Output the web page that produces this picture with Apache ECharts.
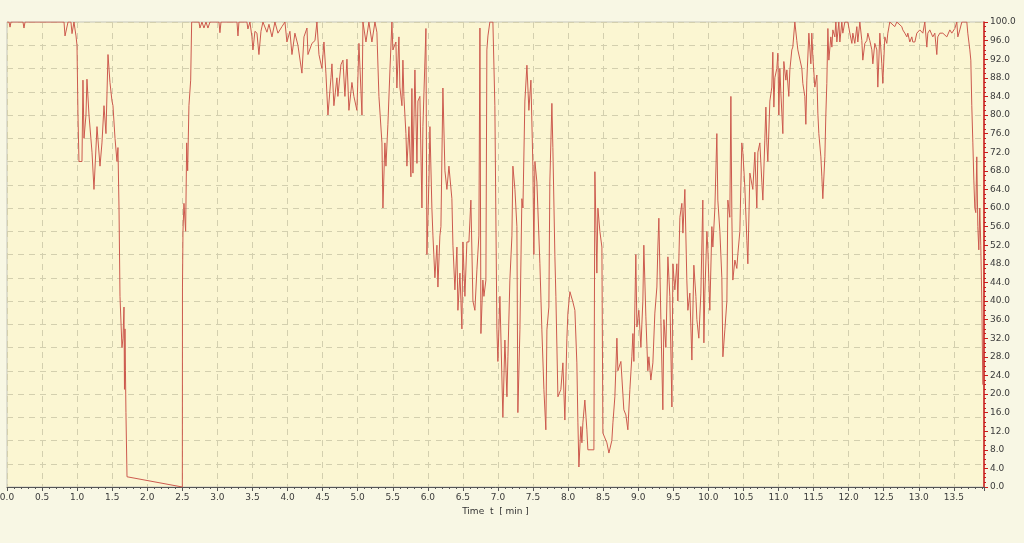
<!DOCTYPE html>
<html>
<head>
<meta charset="utf-8">
<script src="https://cdn.jsdelivr.net/npm/echarts@6/dist/echarts.min.js"></script>
<style>
html,body{margin:0;padding:0;background:#f8f7e4;}
#c{width:1024px;height:543px;}
</style>
</head>
<body>
<div id="c"></div>
<script>
var xTitle = 'Time  t  [ min ]';
var yTitle = 'RXSQ [%]';
var xMin = 0, xMax = 13.93, xStep = 0.5;
var yMin = 0, yMax = 100, yLabelStep = 4, yGridStep = 5;

var timeMin = [
0,0.029,0.043,0.057,0.228,0.242,0.257,0.813,0.827,0.855,0.870,0.912,0.927,0.955,0.969,0.984,0.998,1.012,1.026,1.069,1.083,1.098,1.126,1.140,1.169,1.212,1.240,1.283,1.326,1.354,1.383,1.411,1.440,1.468,1.497,1.511,1.540,1.568,1.582,1.597,1.611,1.639,1.654,1.668,1.675,1.682,1.689,1.696,1.711,
2.500,2.502,2.509,2.523,2.547,2.562,2.576,2.594,2.619,2.633,
2.737,2.751,2.780,2.808,2.837,2.865,2.894,3.022,3.036,3.051,3.279,3.293,3.307,3.421,3.435,3.464,3.492,3.507,3.535,3.564,3.592,3.621,3.649,3.706,3.735,3.778,3.820,3.863,3.920,3.963,3.991,4.034,4.063,4.105,4.148,4.205,4.234,4.277,4.291,4.348,4.391,4.419,4.448,4.490,4.519,4.547,4.576,4.619,4.633,4.661,4.704,4.718,4.761,4.790,4.818,4.847,4.875,4.918,4.946,4.989,5.018,5.061,5.075,5.118,5.160,5.203,5.246,5.274,5.303,5.346,5.360,5.388,5.403,5.431,5.460,5.488,5.502,5.545,5.559,5.588,5.602,5.631,5.645,5.659,5.688,5.702,5.731,5.759,5.773,5.788,5.816,5.845,5.859,5.887,5.916,5.930,5.973,5.987,6.016,6.030,6.058,6.073,6.101,6.130,6.144,6.172,6.187,6.215,6.244,6.272,6.301,6.343,6.358,6.386,6.415,6.429,6.458,6.486,6.500,6.529,6.557,6.586,6.614,6.643,6.671,6.700,6.728,6.743,6.757,6.785,6.800,6.828,6.842,6.857,6.885,6.928,6.956,6.985,6.999,7.028,7.070,7.099,7.128,7.142,7.170,7.199,7.213,7.242,7.270,7.284,7.313,7.341,7.356,7.384,7.413,7.441,7.470,7.498,7.512,7.527,7.555,7.569,7.598,7.626,7.655,7.683,7.698,7.726,7.740,7.769,7.783,7.812,7.826,7.855,7.897,7.926,7.954,7.983,7.997,8.026,8.054,8.068,8.097,8.125,8.140,8.154,8.182,8.197,8.211,8.239,8.268,8.282,8.368,8.382,8.410,8.425,8.453,8.482,8.496,8.553,8.582,8.624,8.639,8.667,8.696,8.710,8.753,8.781,8.795,8.824,8.852,8.881,8.909,8.924,8.938,8.966,8.981,9.009,9.038,9.066,9.080,9.109,9.137,9.152,9.180,9.209,9.237,9.266,9.280,9.294,9.323,9.351,9.366,9.394,9.423,9.451,9.480,9.494,9.522,9.551,9.565,9.594,9.622,9.637,9.665,9.693,9.708,9.736,9.765,9.793,9.822,9.836,9.864,9.893,9.921,9.936,9.950,9.979,9.993,10.021,10.050,10.064,10.093,10.121,10.135,10.164,10.192,10.207,10.235,10.264,10.278,10.306,10.321,10.335,10.349,10.378,10.406,10.420,10.449,10.477,10.492,10.520,10.549,10.563,10.592,10.620,10.634,10.663,10.691,10.706,10.734,10.763,10.777,10.805,10.820,10.834,10.848,10.877,10.905,10.919,10.934,10.948,10.976,10.991,11.005,11.019,11.034,11.062,11.076,11.105,11.119,11.147,11.162,11.190,11.204,11.233,11.261,11.276,11.304,11.333,11.347,11.375,11.390,11.404,11.433,11.461,11.475,11.490,11.518,11.547,11.561,11.575,11.604,11.618,11.632,11.661,11.675,11.689,11.704,11.718,11.746,11.761,11.775,11.803,11.818,11.832,11.860,11.875,11.903,11.917,11.946,11.989,12.017,12.046,12.060,12.088,12.117,12.131,12.160,12.188,12.202,12.231,12.259,12.274,12.302,12.331,12.345,12.373,12.402,12.416,12.445,12.473,12.487,12.516,12.544,12.559,12.587,12.658,12.687,12.758,12.772,12.801,12.830,12.844,12.872,12.901,12.915,12.944,12.972,13.015,13.058,13.086,13.115,13.129,13.157,13.200,13.229,13.257,13.271,13.300,13.343,13.400,13.443,13.471,13.514,13.542,13.557,13.585,13.614,13.685,13.699,13.728,13.742,13.756,13.771,13.785,13.799,13.813,13.827,13.842,13.856,13.870,13.884,13.899,13.913
];

var rxsq = [
100,100,98.9,100,100,98.7,100,100,97,96.8,100,100,97.5,100,98.5,97,95,80,70,70,87.5,75,80,87.7,80,72,64,77.5,69,74,82,76,93,87,83,82,75,70,73,60,41,30,32,38.7,21,34,25,16,2.2,
0,43,55,61,55,74,68,82,87.5,100,
100,98.7,100,98.7,100,98.7,100,100,97.7,100,100,97,100,100,98.5,100,96.8,94,98,97.6,93,98,100,97.8,99.5,96.8,100,97.6,99,100,95.7,98,93,97.6,95,89,96.8,98.7,93,95.4,96,100,93,90,95.7,89,80,88,91,82,88,84,90.8,91.8,84,92,81,87,84,81,95.4,80,100,95.7,100,95.7,100,97.8,84,74,60,74,69,78,89.7,100,94,95.7,85.8,96.8,86,82,91.8,84,76,69,77.5,66.7,85.7,67.5,89.7,69.6,83,84,60,77.5,98.6,50,66,77.5,60,54,45,52,43,54,56,85.8,68,64,69,62,52,42.4,51.6,38,46,34,52.7,41,52.7,52.7,61.7,40,38,46.7,54,98.7,33,44.5,41,44.5,94,97,100,100,82,33.8,27,41,15,31.6,19.4,28,44.5,54,69,64,56,16,33.8,62,60,83,90.7,81,87.5,69,50,70,65.6,65.6,48,33.8,21,12.3,33.8,38.7,65.6,82.5,73,49.5,41,19.4,21,26.7,14.4,32,37.4,42,41.7,39.8,38,26.7,13.8,4.3,13,9.5,13.8,18.7,12.3,8,8,67.8,46,60,55,51.6,11.6,9.5,7.3,10,13.8,19.4,32,25,27,27,16.6,15.5,12.3,21,28,33,27,50,34.4,38,30,40,52,36.6,25,28,23,26.7,37.4,43,51.6,57.8,36,16.6,36,30,49.5,41,17.2,48,42.4,48,40,58,61,54.6,64,44.5,38,41.7,27.3,47.7,41,36,32,41.7,61.7,31,41.7,55,51,38,56,51.6,60,76,61.7,55,45,28,33.8,40,61.7,58,84,58,44.5,48.8,47,50,55,74,72,64.5,53,48,67.5,67.5,64,72,60,72,74,65.4,61.7,74.6,81.7,74,70,83,86,93.5,81.7,88,90,93.3,80,90,84.7,76,91.5,87.5,89.7,84,89.7,94,94.6,100,96,94,94,90,86.8,84,78,87.5,97.6,91,97.6,92.5,86,88.6,80.4,76,71,66.7,62,71,80,86.8,98.6,91.8,96.8,94.6,98.3,96.8,100,95.7,100,95.7,100,97.6,100,100,97.6,95.4,97.6,95.4,99,95.7,100,96,91.8,95.4,96,97.6,96,94,91,95.4,94,86,97.6,91,86.8,96.8,95.4,97.6,100,99,100,99,98.3,97.6,96.8,97.6,95.7,96.8,95.7,95.7,97.6,98.3,97.6,100,94.6,97.6,98.3,96.8,97.6,93,96.8,97.6,97.6,96.8,98.3,97.6,98.6,100,96.8,98.3,100,100,97.6,94,91.8,82,74,66,60,59,71,56,51,60,52,40,22
];

var seriesData = timeMin.map(function (t, i) { return [t, rxsq[i]]; });

var chart = echarts.init(document.getElementById('c'), null, {renderer: 'canvas'});
var labelFont = {color: '#3a3a3a', fontSize: 9, fontFamily: 'DejaVu Sans'};
chart.setOption({
  backgroundColor: '#f8f7e4',
  animation: false,
  grid: {left: 7, top: 22, right: 40, bottom: 56, show: true, containLabel: false,
         outerBoundsMode: 'none',
         backgroundColor: '#fbf6d2', borderColor: '#c4c4bc', borderWidth: 1},
  xAxis: {
    type: 'value', min: xMin, max: xMax, interval: xStep,
    name: xTitle, nameLocation: 'middle', nameGap: 16,
    nameTextStyle: {color: '#333', fontSize: 9, fontFamily: 'DejaVu Sans'},
    axisLine: {show: true, onZero: false, lineStyle: {color: '#555', width: 1}},
    axisTick: {show: true, length: 4, lineStyle: {color: '#555'}},
    minorTick: {show: true, splitNumber: 5, length: 2, lineStyle: {color: '#555'}},
    axisLabel: Object.assign({margin: 6, formatter: function (v) {
      var r = Math.round(v / xStep) * xStep;
      return Math.abs(r - v) < 1e-6 ? v.toFixed(1) : '';
    }}, labelFont),
    splitLine: {show: true, lineStyle: {color: '#d3cfae', type: [6, 5], width: 1}}
  },
  yAxis: [{
    type: 'value', position: 'left', min: yMin, max: yMax, interval: yGridStep,
    axisLine: {show: false, onZero: false}, axisTick: {show: false}, axisLabel: {show: false},
    splitLine: {show: true, lineStyle: {color: '#d3cfae', type: [6, 5], width: 1}}
  }, {
    type: 'value', position: 'right', min: yMin, max: yMax, interval: yLabelStep,
    name: yTitle, nameLocation: 'middle', nameGap: 31, nameRotate: 90,
    nameTextStyle: {color: '#333', fontSize: 9, fontFamily: 'DejaVu Sans'},
    axisLine: {show: true, onZero: false, lineStyle: {color: '#cc1a1a', width: 1.5}},
    axisTick: {show: true, length: 4, lineStyle: {color: '#cc1a1a'}},
    minorTick: {show: true, splitNumber: 4, length: 2, lineStyle: {color: '#cc1a1a'}},
    axisLabel: Object.assign({margin: 6, formatter: function (v) { return v.toFixed(1); }}, labelFont),
    splitLine: {show: false}
  }],
  series: [{
    type: 'line', yAxisIndex: 1, data: seriesData, showSymbol: false,
    lineStyle: {color: '#cc5a4e', width: 1}, clip: true
  }]
});
</script>
</body>
</html>
